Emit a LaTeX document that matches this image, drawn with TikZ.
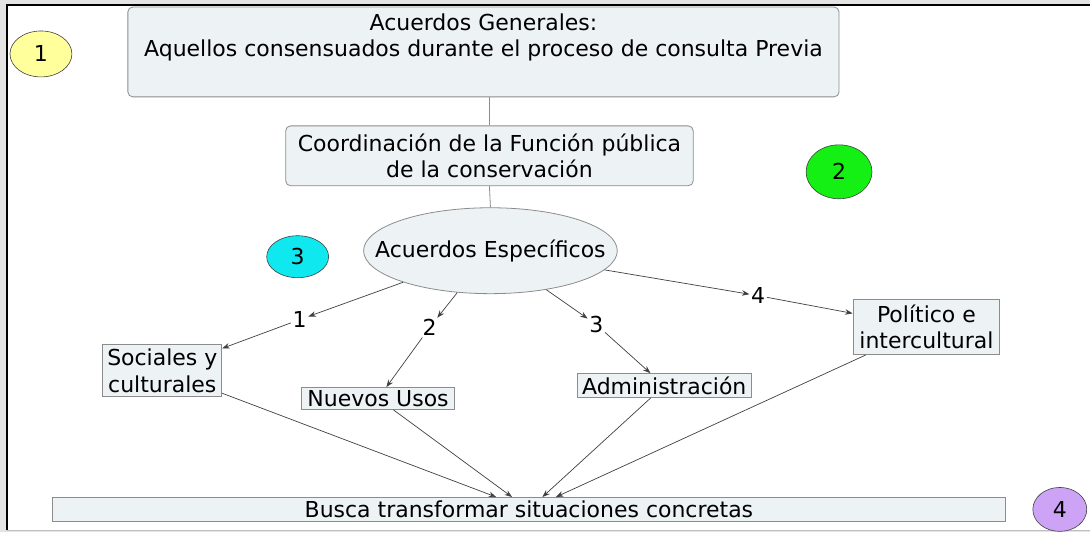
\documentclass[tikz,border=0pt]{standalone}
\usepackage{fontspec}
\setmainfont{DejaVu Sans}
\usetikzlibrary{shapes.geometric,arrows.meta}
\definecolor{boxfill}{HTML}{EDF2F5}
\definecolor{boxline}{HTML}{8C8C8C}
\definecolor{linegray}{HTML}{404040}
\definecolor{framegray}{HTML}{E4E4E4}
\definecolor{cyellow}{HTML}{FFFF9C}
\definecolor{cgreen}{HTML}{14F014}
\definecolor{ccyan}{HTML}{10E8F0}
\definecolor{cpurple}{HTML}{CCA3F5}
\tikzset{
  concept/.style={draw=boxline, fill=boxfill, line width=0.8pt, inner sep=0pt, align=center},
  roundbox/.style={concept, rounded corners=5pt},
  oval/.style={ellipse, draw=boxline, fill=boxfill, line width=0.8pt, inner sep=0pt},
  badge/.style={ellipse, draw=linegray, line width=0.6pt, inner sep=0pt},
  linklbl/.style={inner sep=1.5pt},
  arr/.style={draw=linegray, line width=0.7pt, -{Stealth[length=7.5pt,width=5.5pt]}},
  plainline/.style={draw=boxline, line width=0.8pt},
}
\begin{document}
\begin{tikzpicture}[x=1pt,y=-1pt,font=\fontsize{22}{26.5}\selectfont]
\fill[framegray] (0,0) rectangle (1091,533);
\fill[white] (7,5) rectangle (1091,531);
\draw[line width=2.5pt] (7,531) -- (7,5) -- (1091,5);
\draw[gray!50, line width=1pt] (7,531.5) -- (1091,531.5);
\useasboundingbox (0,0) rectangle (1091,533);

% badges
\node[badge, fill=cyellow, minimum width=62pt, minimum height=46pt] (b1) at (41,54) {1};
\node[badge, fill=cgreen, minimum width=66pt, minimum height=54pt] (b2) at (840,172) {2};
\node[badge, fill=ccyan, minimum width=62pt, minimum height=42pt] (b3) at (298,257) {3};
\node[badge, fill=cpurple, minimum width=54pt, minimum height=44pt] (b4) at (1061,510) {4};

% main concepts
\node[roundbox] (A) at (484,52) {\parbox[c][90pt][t]{712pt}{\centering\vspace*{6.5pt}Acuerdos Generales:\\Aquellos consensuados durante el proceso de consulta Previa}};
\node[roundbox, minimum width=408pt, minimum height=60pt] (C) at (490,156) {Coordinación de la Función pública\\de la conservación};
\node[oval, minimum width=254pt, minimum height=86pt] (E) at (491,251) {\makebox[0pt]{Acuerdos Específicos}};

\node[concept, minimum width=119pt, minimum height=52pt] (S) at (162.5,371) {Sociales y\\culturales};
\node[concept, minimum width=153pt, minimum height=22pt] (N) at (378.5,399) {Nuevos Usos};
\node[concept, minimum width=174pt, minimum height=24pt] (D) at (665,386) {Administración};
\node[concept, minimum width=147pt, minimum height=55pt] (P) at (927.5,327.5) {Político e\\intercultural};
\node[concept, minimum width=955pt, minimum height=24pt] (B) at (529.5,510) {Busca transformar situaciones concretas};

% link labels
\node[linklbl] (l1) at (300,320) {1};
\node[linklbl] (l2) at (430,328) {2};
\node[linklbl] (l3) at (597,325) {3};
\node[linklbl] (l4) at (759,296) {4};

% connectors
\draw[plainline] (C.north |- A.south) -- (C.north);
\draw[plainline] (C.south) -- (E.north);
\draw[arr] (E) -- (l1);
\draw[arr] (l1) -- (S);
\draw[arr] (E) -- (l2);
\draw[arr] (l2) -- (N);
\draw[arr] (E) -- (l3);
\draw[arr] (l3) -- (D);
\draw[arr] (E) -- (l4);
\draw[arr] (l4) -- (P);
\draw[arr] (S) -- (B);
\draw[arr] (N) -- (B);
\draw[arr] (D) -- (B);
\draw[arr] (P) -- (B);
\end{tikzpicture}
\end{document}
